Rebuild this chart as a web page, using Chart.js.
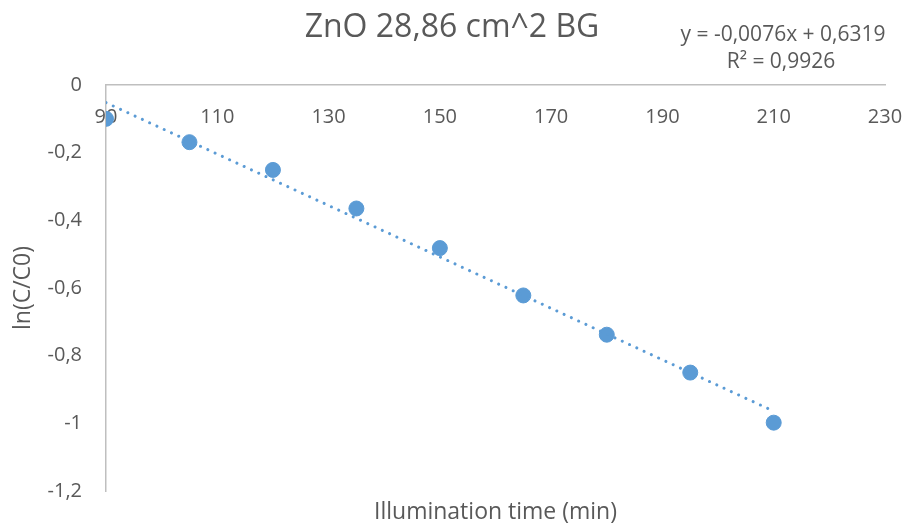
<!DOCTYPE html>
<html>
<head>
<meta charset="utf-8">
<script src="https://cdn.jsdelivr.net/npm/chart.js@4/dist/chart.umd.min.js"></script>
<style>
  html, body { margin: 0; padding: 0; background: #fff; }
  #wrap { width: 906px; height: 525px; }
</style>
</head>
<body>
<div id="wrap"><canvas id="chart" width="906" height="525"></canvas></div>
<script>
const times = [90, 105, 120, 135, 150, 165, 180, 195, 210];
const lnRatio = [-0.100, -0.169, -0.251, -0.365, -0.482, -0.622, -0.738, -0.850, -0.998];
const xTicks = [90, 110, 130, 150, 170, 190, 210, 230];
const yTicks = [0, -0.2, -0.4, -0.6, -0.8, -1, -1.2];
const trendSlope = -0.0076;
const trendIntercept = 0.6319;
const trendR2 = 0.9926;

const blue = '#5b9bd5';
const grey = '#595959';
const axisGrey = '#bfbfbf';
const font = '"Open Sans", sans-serif';

const comma = (v) => String(Math.round(v * 10000) / 10000).replace('.', ',');

const trendXs = [times[0], times[times.length - 1]];
const trendPoints = trendXs.map((x) => ({ x, y: trendSlope * x + trendIntercept }));

// titles and the trendline equation
const labelsPlugin = {
    id: 'labels',
    afterDraw(chart) {
        const ctx = chart.ctx;
        const area = chart.chartArea;
        ctx.save();
        ctx.fillStyle = grey;
        ctx.textAlign = 'center';
        ctx.textBaseline = 'middle';

        ctx.font = '32px ' + font;
        ctx.fillText('ZnO 28,86 cm^2 BG', 452, 28);

        ctx.font = '21px ' + font;
        ctx.fillText('y = ' + comma(trendSlope) + 'x + ' + comma(trendIntercept), 783, 35);
        ctx.fillText('R² = ' + comma(trendR2), 781, 62);

        ctx.font = '23px ' + font;
        ctx.fillText('Illumination time (min)', (area.left + area.right) / 2, 512);

        ctx.translate(23, (area.top + area.bottom) / 2);
        ctx.rotate(-Math.PI / 2);
        ctx.fillText('ln(C/C0)', 0, 0);
        ctx.restore();
    },
};

new Chart(document.getElementById('chart'), {
    type: 'scatter',
    data: {
        datasets: [
            {
                type: 'line',
                label: 'Linear trend',
                data: trendPoints,
                borderColor: blue,
                borderWidth: 3,
                borderDash: [0.01, 8],
                borderCapStyle: 'round',
                pointRadius: 0,
                fill: false,
            },
            {
                label: 'ln(C/C0)',
                data: times.map((t, i) => ({ x: t, y: lnRatio[i] })),
                backgroundColor: blue,
                borderColor: blue,
                pointRadius: 7.5,
                pointHoverRadius: 7.5,
            },
        ],
    },
    options: {
        responsive: false,
        animation: false,
        events: [],
        layout: { padding: { top: 85, right: 21, bottom: 34, left: 0 } },
        plugins: {
            legend: { display: false },
            tooltip: { enabled: false },
        },
        scales: {
            x: {
                type: 'linear',
                position: { y: 0 },
                min: xTicks[0],
                max: xTicks[xTicks.length - 1],
                afterBuildTicks: (scale) => { scale.ticks = xTicks.map((v) => ({ value: v })); },
                // tick labels may hang past the plot edges
                afterFit: (scale) => { scale.paddingLeft = 0; scale.paddingRight = 0; },
                grid: { display: false, drawTicks: false },
                border: { color: axisGrey, width: 1.5 },
                ticks: {
                    color: grey,
                    font: { family: font, size: 20 },
                    padding: 20,
                    maxRotation: 0,
                },
            },
            y: {
                type: 'linear',
                min: yTicks[yTicks.length - 1],
                max: yTicks[0],
                afterBuildTicks: (scale) => { scale.ticks = yTicks.map((v) => ({ value: v })); },
                afterFit: (scale) => { scale.width = 106; scale.paddingTop = 0; scale.paddingBottom = 0; },
                grid: { display: false, drawTicks: false },
                border: { color: axisGrey, width: 1.5 },
                ticks: {
                    color: grey,
                    font: { family: font, size: 20 },
                    padding: 24,
                    callback: (v) => comma(v),
                },
            },
        },
    },
    plugins: [labelsPlugin],
});
</script>
</body>
</html>
